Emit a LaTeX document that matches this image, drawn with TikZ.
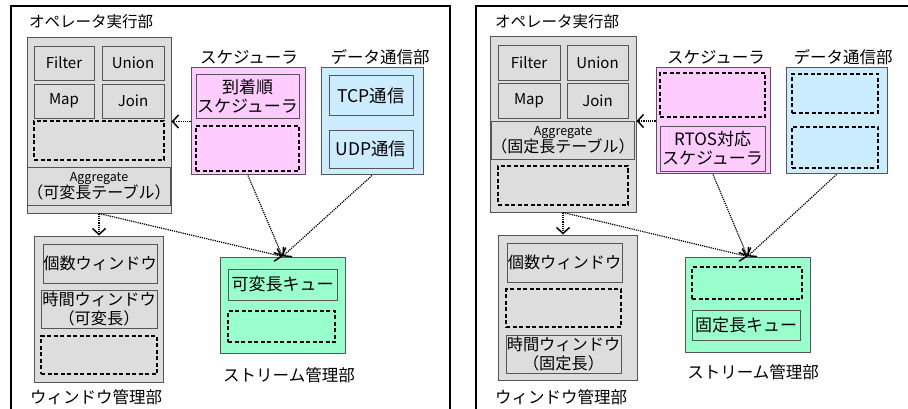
\documentclass[tikz,border=0pt]{standalone}
\usepackage{fontspec}
\setmainfont{Noto Sans CJK JP}
\usetikzlibrary{arrows.meta}
\definecolor{grayfill}{HTML}{DDDDDD}
\definecolor{pinkfill}{HTML}{FFCCFF}
\definecolor{bluefill}{HTML}{CCECFF}
\definecolor{greenfill}{HTML}{99FFCC}
\definecolor{edgecol}{HTML}{555555}
\begin{document}
\begin{tikzpicture}[x=1pt,y=-1pt,
  sz/.style 2 args={minimum width=#1pt, minimum height=#2pt},
  box/.style={draw=edgecol, line width=1pt, inner sep=0pt, rectangle},
  graybox/.style={box, fill=grayfill},
  pinkbox/.style={box, fill=pinkfill},
  bluebox/.style={box, fill=bluefill},
  greenbox/.style={box, fill=greenfill},
  inbox/.style={draw=edgecol, line width=0.9pt, inner sep=0pt, align=center, font=\fontsize{17}{19}\selectfont},
  winbox/.style={inbox, font=\fontsize{16.2}{18.5}\selectfont},
  opbox/.style={inbox, font=\fontsize{15}{17}\selectfont},
  aggbox/.style={inbox, font=\fontsize{16}{17}\selectfont},
  dbox/.style={draw=black, line width=1.3pt, dash pattern=on 4pt off 2.5pt, inner sep=0pt},
  lbl/.style={inner sep=0pt, font=\fontsize{16.5}{18}\selectfont},
  frame/.style={draw=black, line width=1.3pt},
  arr/.style={densely dotted, line width=1.2pt, -{Straight Barb[length=6pt,width=13pt,line width=1.5pt]}},
]
\useasboundingbox (0,0) rectangle (908,409);

% ================= left panel =================
\draw[frame] (11,409) -- (11,6) -- (450,6) -- (450,409);
\node[lbl, anchor=west, font=\fontsize{15.5}{17}\selectfont] (tOpL) at (29,22) {オペレータ実行部};
\node[lbl] (tSchL) at (249,57) {スケジューラ};
\node[lbl] (tDatL) at (380,57) {データ通信部};
\node[lbl] (tWinL) at (96,397) {ウィンドウ管理部};
\node[lbl] (tStrL) at (289,375) {ストリーム管理部};

\node[graybox, sz={144}{175}] (opL) at (99,125.5) {};
\node[opbox, sz={60}{34}] (filterL) at (64,63) {Filter};
\node[opbox, sz={62}{34}] (unionL) at (133,63) {Union};
\node[opbox, sz={60}{34}] (mapL) at (64,101) {Map};
\node[opbox, sz={62}{34}] (joinL) at (133,101) {Join};
\node[dbox, sz={130}{39}] (dL1) at (99,140.5) {};
\node[aggbox, sz={130}{38}] (aggL) at (99,186) {{\fontsize{12.5}{14}\selectfont Aggregate}\\（可変長テーブル）};

\node[pinkbox, sz={114}{107}] (schL) at (248,121.5) {};
\node[inbox, sz={103}{44}] (arrL) at (247.5,96) {到着順\\スケジューラ};
\node[dbox, sz={103}{45}] (dL2) at (247.5,148.5) {};

\node[bluebox, sz={102}{107}] (datL) at (372,121.5) {};
\node[inbox, sz={84}{40}, font=\fontsize{17.5}{19}\selectfont] (tcpL) at (371,95.5) {TCP通信};
\node[inbox, sz={84}{38}, font=\fontsize{17.5}{19}\selectfont] (udpL) at (371,149) {UDP通信};

\node[graybox, sz={129}{146}] (winL) at (98.5,309) {};
\node[winbox, sz={114}{39}] (cntL) at (100,263.5) {個数ウィンドウ};
\node[winbox, sz={116}{38}] (timL) at (99,309) {時間ウィンドウ\\（可変長）};
\node[dbox, sz={116}{38}] (dL3) at (99,355) {};

\node[greenbox, sz={125}{96}] (strL) at (282.5,305) {};
\node[inbox, sz={109}{31}] (queL) at (282.5,284.5) {可変長キュー};
\node[dbox, sz={107}{31}] (dL4) at (281.5,326.5) {};

\draw[arr] (schL.west) -- (schL.west -| opL.east);
\draw[arr] (opL.south) -- (opL.south |- winL.north);
\draw[arr] (opL.south) -- (strL.north);
\draw[arr] (schL.south) -- (strL.north);
\draw[arr] (datL.south) -- (strL.north);

% ================= right panel =================
\draw[frame] (476,409) -- (476,6) -- (908,6);
\node[lbl, anchor=west, font=\fontsize{15.5}{17}\selectfont] (tOpR) at (495,22) {オペレータ実行部};
\node[lbl] (tSchR) at (716,57) {スケジューラ};
\node[lbl] (tDatR) at (843,57) {データ通信部};
\node[lbl] (tWinR) at (561,397) {ウィンドウ管理部};
\node[lbl] (tStrR) at (753,372) {ストリーム管理部};

\node[graybox, sz={146}{175}] (opR) at (563,124.5) {};
\node[opbox, sz={62}{35}] (filterR) at (529,62.5) {Filter};
\node[opbox, sz={61}{35}] (unionR) at (597.5,62.5) {Union};
\node[opbox, sz={62}{35}] (mapR) at (529,100.5) {Map};
\node[opbox, sz={61}{35}] (joinR) at (597.5,100.5) {Join};
\node[aggbox, sz={130}{38}] (aggR) at (563,140) {{\fontsize{12.5}{14}\selectfont Aggregate}\\（固定長テーブル）};
\node[dbox, sz={130}{39}] (dR1) at (563,185.5) {};

\node[pinkbox, sz={114}{106}] (schR) at (713,121) {};
\node[dbox, sz={105}{44}] (dR2) at (712.5,95) {};
\node[inbox, sz={105}{45}] (rtosR) at (712.5,148.5) {RTOS対応\\スケジューラ};

\node[bluebox, sz={101}{106}] (datR) at (836.5,121) {};
\node[dbox, sz={86}{39}] (dR3) at (835,93.5) {};
\node[dbox, sz={86}{41}] (dR4) at (835,147.5) {};

\node[graybox, sz={139}{145}] (winR) at (567.5,307.5) {};
\node[winbox, sz={115}{39}] (cntR) at (564.5,262.5) {個数ウィンドウ};
\node[dbox, sz={115}{38}] (dR5) at (563.5,308) {};
\node[winbox, sz={115}{38}] (timR) at (563.5,354) {時間ウィンドウ\\（固定長）};

\node[greenbox, sz={125}{95}] (strR) at (747.5,304.5) {};
\node[dbox, sz={110}{32}] (dR6) at (747,283) {};
\node[inbox, sz={108}{30}] (queR) at (746,325) {固定長キュー};

\draw[arr] (schR.west) -- (schR.west -| opR.east);
\draw[arr] (opR.south) -- (opR.south |- winR.north);
\draw[arr] (opR.south) -- (strR.north);
\draw[arr] (schR.south) -- (strR.north);
\draw[arr] (datR.south) -- (strR.north);
\end{tikzpicture}
\end{document}
